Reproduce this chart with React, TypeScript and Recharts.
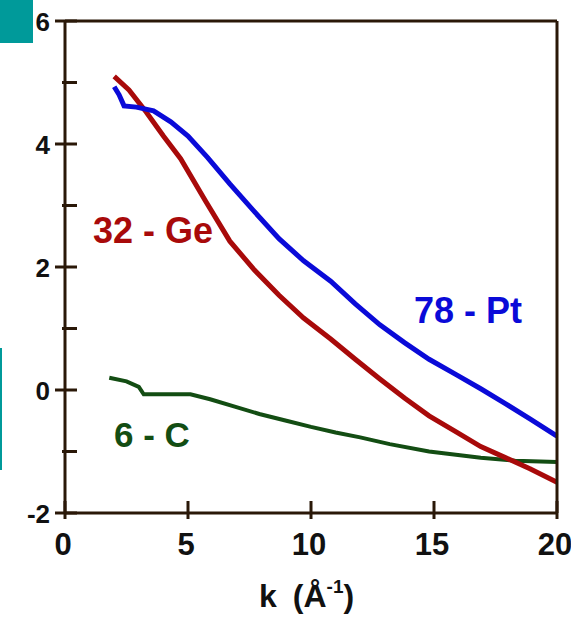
import React from "react";
import { LineChart, Line, XAxis, YAxis, ReferenceLine } from "recharts";

const geK = [2.0, 2.6, 3.3, 4.0, 4.7, 5.7, 6.7, 7.7, 8.7, 9.7, 10.8, 11.8, 12.8, 13.8, 14.8, 15.9, 16.9, 17.9, 18.9, 20];
const geV = [5.1, 4.88, 4.52, 4.13, 3.76, 3.08, 2.42, 1.95, 1.54, 1.17, 0.83, 0.5, 0.18, -0.13, -0.42, -0.68, -0.92, -1.1, -1.28, -1.5];

const ptK = [2.0, 2.2, 2.4, 2.9, 3.6, 4.3, 5.0, 5.8, 6.7, 7.7, 8.7, 9.7, 10.8, 11.8, 12.8, 13.8, 14.8, 15.9, 16.9, 17.9, 18.9, 20];
const ptV = [4.93, 4.8, 4.62, 4.6, 4.54, 4.36, 4.13, 3.78, 3.35, 2.9, 2.46, 2.1, 1.77, 1.4, 1.06, 0.77, 0.5, 0.25, 0.02, -0.22, -0.47, -0.75];

const cK = [1.8, 2.5, 3.0, 3.2, 4.0, 5.1, 5.9, 6.9, 7.9, 9.0, 10.0, 11.0, 12.0, 13.2, 14.8, 16.9, 18.3, 20];
const cV = [0.2, 0.14, 0.05, -0.07, -0.07, -0.07, -0.15, -0.27, -0.39, -0.5, -0.6, -0.69, -0.77, -0.88, -1.0, -1.1, -1.15, -1.17];

const xTicks = [0, 5, 10, 15, 20];
const yTicks = [-2, -1, 0, 1, 2, 3, 4, 5, 6];

const toRows = (ks: number[], vs: number[]) => ks.map((k, i) => ({ k, v: vs[i] }));
const geData = toRows(geK, geV);
const ptData = toRows(ptK, ptV);
const cData = toRows(cK, cV);

const AXIS = "#2a1808";
const FONT = "'Liberation Sans', Arial, sans-serif";
const RED = "#a80a0a";
const BLUE = "#0a0ad8";
const GREEN = "#134d13";

const W = 571;
const H = 617;
const PL = 65;
const PR = 557;
const PB = 513;

const LeftTick = (props: any) => {
  const { y, payload } = props;
  const even = payload.value % 2 === 0;
  return (
    <g>
      <line x1={even ? PL - 10 : PL - 3} x2={PL + 12} y1={y} y2={y} stroke={AXIS} strokeWidth={3} />
      {even && (
        <text x={50} y={y + 10} textAnchor="end" fontFamily={FONT} fontWeight="bold" fontSize={26} fill="#111">
          {payload.value}
        </text>
      )}
    </g>
  );
};

const RightTick = (props: any) => {
  const { y } = props;
  return <line x1={PR - 9} x2={PR + 6} y1={y} y2={y} stroke={AXIS} strokeWidth={3} />;
};

const BottomTick = (props: any) => {
  const { x, payload } = props;
  return (
    <g>
      <line x1={x} x2={x} y1={PB - 12} y2={PB + 6} stroke={AXIS} strokeWidth={3} />
      <text x={x - 2} y={555} textAnchor="middle" fontFamily={FONT} fontWeight="bold" fontSize={31} fill="#111">
        {payload.value}
      </text>
    </g>
  );
};

const AxisTitle = () => (
  <text x={259} y={607} textAnchor="start" fontFamily={FONT} fontWeight="bold" fontSize={32} fill="#111">
    <tspan>k</tspan>
    <tspan dx={16}>(Å</tspan>
    <tspan dy={-14} fontSize={19}>-1</tspan>
    <tspan dy={14}>)</tspan>
  </text>
);

export default function App() {
  return (
    <div style={{ position: "absolute", left: 0, top: 0, width: W, height: H, background: "#fff" }}>
      <LineChart width={W} height={H} margin={{ top: 21, right: 4, bottom: 4, left: 5 }}>
        <XAxis
          xAxisId="b"
          type="number"
          dataKey="k"
          domain={[0, 20]}
          ticks={xTicks}
          height={100}
          axisLine={{ stroke: AXIS, strokeWidth: 3 }}
          tickLine={false}
          tick={<BottomTick />}
          label={{ content: <AxisTitle /> }}
          allowDuplicatedCategory={false}
        />
        <YAxis
          yAxisId="l"
          type="number"
          domain={[-2, 6]}
          ticks={yTicks}
          width={60}
          axisLine={{ stroke: AXIS, strokeWidth: 3 }}
          tickLine={false}
          tick={<LeftTick />}
        />
        <YAxis
          yAxisId="r"
          orientation="right"
          type="number"
          domain={[-2, 6]}
          ticks={yTicks}
          width={10}
          axisLine={{ stroke: AXIS, strokeWidth: 3 }}
          tickLine={false}
          tick={<RightTick />}
        />
        <ReferenceLine xAxisId="b" yAxisId="l" y={6} stroke={AXIS} strokeWidth={3} />
        <Line xAxisId="b" yAxisId="l" data={cData} dataKey="v" type="linear" stroke={GREEN} strokeWidth={4} dot={false} isAnimationActive={false} />
        <Line xAxisId="b" yAxisId="l" data={geData} dataKey="v" type="linear" stroke={RED} strokeWidth={5} dot={false} isAnimationActive={false} />
        <Line xAxisId="b" yAxisId="l" data={ptData} dataKey="v" type="linear" stroke={BLUE} strokeWidth={5} dot={false} isAnimationActive={false} />
        <text x={93} y={243} fontFamily={FONT} fontWeight="bold" fontSize={36} fill={RED}>32 - Ge</text>
        <text x={414} y={323} fontFamily={FONT} fontWeight="bold" fontSize={36} fill={BLUE}>78 - Pt</text>
        <text x={114} y={447} fontFamily={FONT} fontWeight="bold" fontSize={35} fill={GREEN}>6 - C</text>
      </LineChart>
      <div style={{ position: "absolute", left: 0, top: 0, width: 33, height: 43, background: "#009a9a" }} />
      <div style={{ position: "absolute", left: 0, top: 348, width: 2, height: 122, background: "#009a9a" }} />
    </div>
  );
}
